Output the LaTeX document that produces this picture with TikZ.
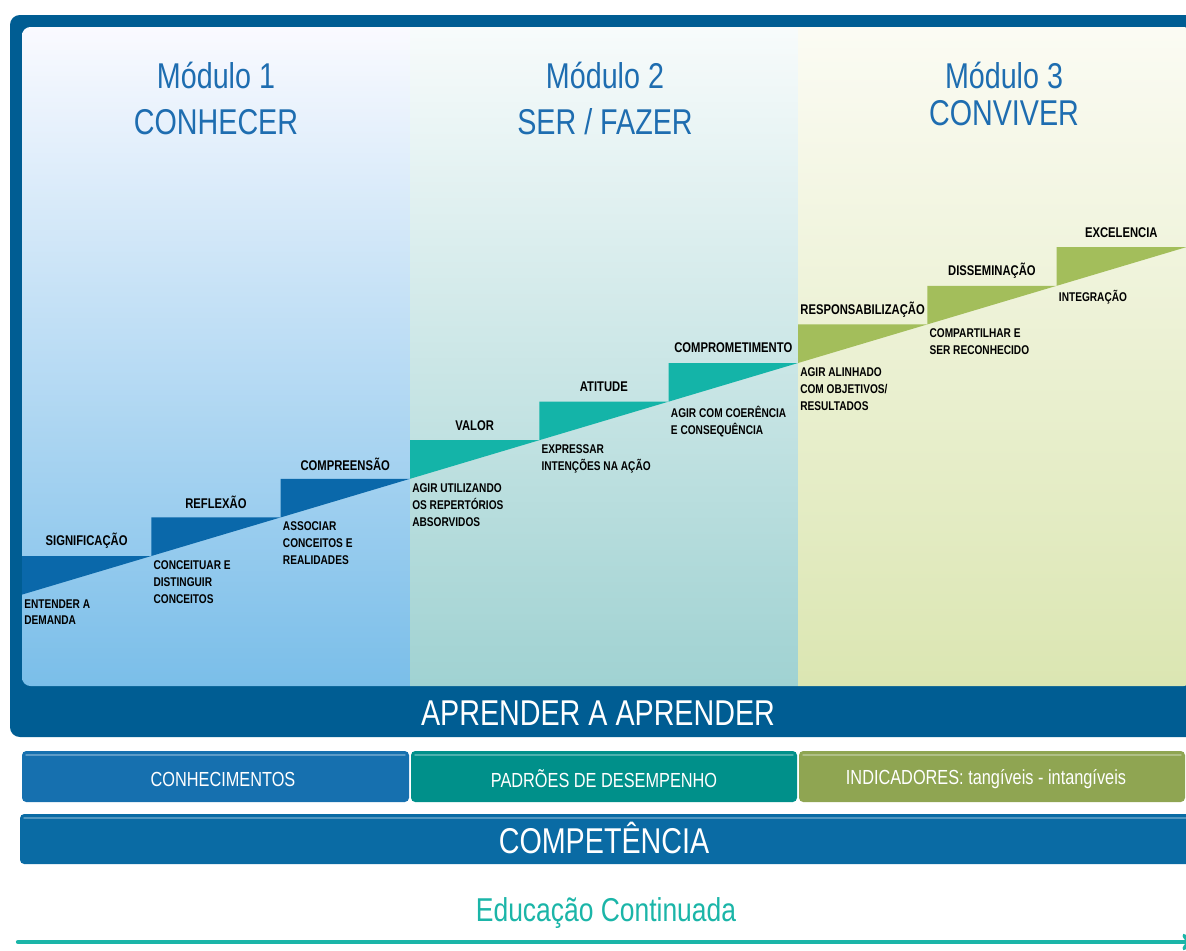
\documentclass[tikz,border=0pt]{standalone}
\usepackage{fontspec}
\setmainfont{Liberation Sans}[FakeStretch=0.8]
\definecolor{moldura}{HTML}{005D93}
\definecolor{titulo}{HTML}{1E6DB0}
\definecolor{azulD}{HTML}{0A68AA}
\definecolor{verdeD}{HTML}{14B4A8}
\definecolor{oliva}{HTML}{A3BE5B}
\definecolor{azulF}{HTML}{1670AF}
\definecolor{verdeF}{HTML}{00908A}
\definecolor{olivaF}{HTML}{8FA552}
\definecolor{compet}{HTML}{0A6BA4}
\definecolor{educ}{HTML}{1BB5A8}
\tikzset{
  titulo/.style={text=titulo, font=\fontsize{25.5}{30}\selectfont},
  rotulo/.style={inner sep=0, font=\fontsize{10}{12}\selectfont\bfseries},
  descricao/.style={anchor=north west, inner sep=0, align=left, font=\fontsize{9}{12}\selectfont\bfseries},
  faixa/.style={text=white, font=\fontsize{14.5}{17}\selectfont},
  grande/.style={text=white, font=\fontsize{25.5}{30}\selectfont},
}
% degrau: nome, x, topo, cor, rotulo, descricao
\newcommand{\degrau}[6]{%
  \fill[#4] (#2,#3) -- (#2+129.3,#3) -- (#2,#3+38.6) -- cycle;
  \node[rotulo] (#1) at (#2+64.6,#3-15) {#5};
  \node[descricao] (#1d) at (#2+2,#3+43) {#6};
}
\begin{document}
\begin{tikzpicture}[x=0.025cm,y=-0.025cm,line join=round,line cap=round]
	\useasboundingbox (0,0) rectangle (1186,950);
	\fill[moldura,rounded corners=7pt] (10,15) rectangle (1196,737);
	\begin{scope}
		\clip[rounded corners=6pt] (22,27) rectangle (1192,686);
		\shade[top color=blue!2!white, bottom color={rgb,255:red,122;green,190;blue,233}] (22,27) rectangle (410,686);
		\shade[top color=teal!3!white, bottom color={rgb,255:red,160;green,210;blue,210}] (410,27) rectangle (798,686);
		\shade[top color=olive!3!white, bottom color={rgb,255:red,219;green,230;blue,178}] (798,27) rectangle (1192,686);
	\end{scope}
	% modulos
	\node[titulo] (m1) at (216,75) {Módulo 1};
	\node[titulo] (m1n) at (216,122) {CONHECER};
	\node[titulo] (m2) at (605,75) {Módulo 2};
	\node[titulo] (m2n) at (605,122) {SER / FAZER};
	\node[titulo] (m3) at (1004,75) {Módulo 3};
	\node[titulo] (m3n) at (1004,113) {CONVIVER};
	% escada
	\degrau{sig}{22}{556}{azulD}{SIGNIFICAÇÃO}{ENTENDER A\\DEMANDA}
	\degrau{ref}{151.3}{517.4}{azulD}{REFLEXÃO}{CONCEITUAR E\\DISTINGUIR\\CONCEITOS}
	\degrau{comp}{280.7}{478.8}{azulD}{COMPREENSÃO}{ASSOCIAR\\CONCEITOS E\\REALIDADES}
	\degrau{val}{410}{440.2}{verdeD}{VALOR}{AGIR UTILIZANDO\\OS REPERTÓRIOS\\ABSORVIDOS}
	\degrau{atit}{539.3}{401.6}{verdeD}{ATITUDE}{EXPRESSAR\\INTENÇÕES NA AÇÃO}
	\degrau{compr}{668.7}{363}{verdeD}{COMPROMETIMENTO}{AGIR COM COERÊNCIA\\E CONSEQUÊNCIA}
	\degrau{resp}{798}{324.4}{oliva}{RESPONSABILIZAÇÃO}{AGIR ALINHADO\\COM OBJETIVOS/\\RESULTADOS}
	\degrau{diss}{927.3}{285.8}{oliva}{DISSEMINAÇÃO}{COMPARTILHAR E\\SER RECONHECIDO}
	\degrau{exc}{1056.7}{247.2}{oliva}{EXCELENCIA}{INTEGRAÇÃO}
	\node[grande] (aprender) at (598,713) {APRENDER A APRENDER};
	% faixas de baixo
	\fill[azulF,rounded corners=3pt] (22,751) rectangle (409,802);
	\fill[verdeF,rounded corners=3pt] (411,751) rectangle (797,802);
	\fill[olivaF,rounded corners=3pt] (799,751) rectangle (1185,802);
	\draw[white,opacity=0.3,line width=1pt] (26,755) -- (405,755) (415,755) -- (793,755) (803,755) -- (1181,755);
	\node[faixa] (conh) at (223,779) {CONHECIMENTOS};
	\node[faixa] (padr) at (604,779) {PADRÕES DE DESEMPENHO};
	\node[faixa] (ind) at (986,779) {INDICADORES: tangíveis - intangíveis};
	\fill[compet,rounded corners=3pt] (20,814) rectangle (1192,864);
	\draw[white,opacity=0.3,line width=1pt] (24,818) -- (1188,818);
	\node[grande] (compt) at (604,838) {COMPETÊNCIA};
	\node[text=educ, font=\fontsize{23.5}{28}\selectfont] (educ) at (606,913) {Educação Continuada};
	\coordinate (ini) at (18,942);
	\coordinate (fim) at (1192,942);
	\draw[->, educ, line width=3pt] (ini) -- (fim);
\end{tikzpicture}
\end{document}
